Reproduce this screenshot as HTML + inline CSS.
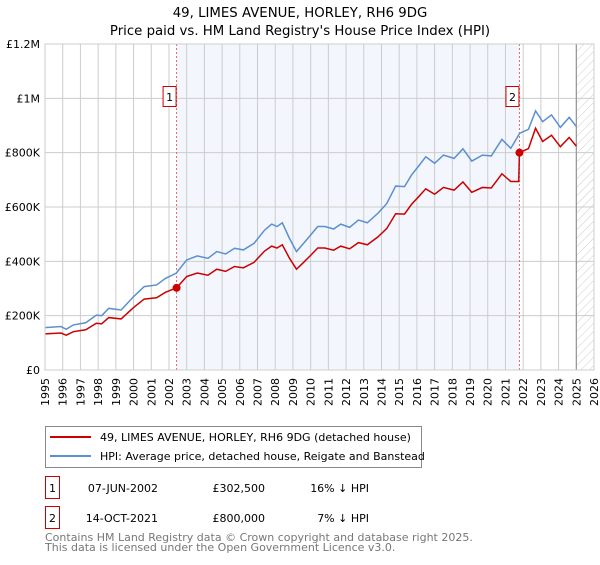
<!DOCTYPE html>
<html><head><meta charset="utf-8"><style>
body{margin:0;background:#fff;font-family:"Liberation Sans","DejaVu Sans",sans-serif}
svg text{font-family:"DejaVu Sans","Liberation Sans",sans-serif}
</style></head><body>
<svg id="c" width="600" height="560" xmlns="http://www.w3.org/2000/svg">
<text x="300" y="17" text-anchor="middle" font-size="13.3" fill="#000">49, LIMES AVENUE, HORLEY, RH6 9DG</text>
<text x="300" y="35" text-anchor="middle" font-size="13.3" fill="#000">Price paid vs. HM Land Registry's House Price Index (HPI)</text>
<g id="plot"></g>
<g>
<rect x="45.5" y="426.5" width="376" height="41" fill="#fff" stroke="#888"/>
<line x1="50" y1="437" x2="91" y2="437" stroke="#cc0000" stroke-width="2"/>
<text x="100" y="441" font-size="11">49, LIMES AVENUE, HORLEY, RH6 9DG (detached house)</text>
<line x1="50" y1="456" x2="91" y2="456" stroke="#5b8fd0" stroke-width="2"/>
<text x="100" y="460" font-size="11">HPI: Average price, detached house, Reigate and Banstead</text>
</g>
<g font-size="11">
<rect x="45.5" y="476.5" width="14" height="22" fill="#fff" stroke="#cc0000"/>
<text x="52.5" y="492" text-anchor="middle">1</text>
<text x="158" y="492" text-anchor="end">07-JUN-2002</text>
<text x="265" y="492" text-anchor="end">£302,500</text>
<text x="369" y="492" text-anchor="end">16% ↓ HPI</text>
<rect x="45.5" y="506.5" width="14" height="22" fill="#fff" stroke="#cc0000"/>
<text x="52.5" y="522" text-anchor="middle">2</text>
<text x="158" y="522" text-anchor="end">14-OCT-2021</text>
<text x="265" y="522" text-anchor="end">£800,000</text>
<text x="369" y="522" text-anchor="end">7% ↓ HPI</text>
</g>
<text x="45" y="541" font-size="11" fill="#777">Contains HM Land Registry data © Crown copyright and database right 2025.</text>
<text x="45" y="551" font-size="11" fill="#777">This data is licensed under the Open Government Licence v3.0.</text>
</svg>
<script>
const years=[1995,1995.9,1996.2,1996.6,1997.3,1997.9,1998.2,1998.6,1999.3,2000.0,2000.6,2001.3,2001.8,2002.4,2003.0,2003.6,2004.2,2004.7,2005.2,2005.7,2006.2,2006.8,2007.4,2007.8,2008.1,2008.4,2008.8,2009.2,2009.6,2010.0,2010.4,2010.8,2011.3,2011.7,2012.2,2012.7,2013.2,2013.8,2014.3,2014.8,2015.3,2015.7,2016.1,2016.5,2017.0,2017.5,2018.1,2018.6,2019.1,2019.7,2020.2,2020.8,2021.3,2021.8,2022.3,2022.7,2023.1,2023.6,2024.1,2024.6,2025.0];
const hpi=[156,160,150,166,174,202,200,227,221,270,307,313,337,356,405,420,411,436,427,448,442,466,515,537,528,542,485,436,466,497,528,528,519,537,525,552,542,577,613,677,675,718,751,785,761,791,779,814,769,791,788,849,816,871,886,954,914,939,893,930,896];
const redYears=[1995,1995.9,1996.2,1996.6,1997.3,1997.9,1998.2,1998.6,1999.3,2000.0,2000.6,2001.3,2001.8,2002.43,2003.0,2003.6,2004.2,2004.7,2005.2,2005.7,2006.2,2006.8,2007.4,2007.8,2008.1,2008.4,2008.8,2009.2,2009.6,2010.0,2010.4,2010.8,2011.3,2011.7,2012.2,2012.7,2013.2,2013.8,2014.3,2014.8,2015.3,2015.7,2016.1,2016.5,2017.0,2017.5,2018.1,2018.6,2019.1,2019.7,2020.2,2020.8,2021.3,2021.75,2021.79,2022.3,2022.7,2023.1,2023.6,2024.1,2024.6,2025.0];
const red=[133,136,128,141,148,172,170,193,188,230,261,266,286,302.5,344,357,349,371,363,381,376,396,438,456,449,461,412,371,396,422,449,449,441,456,446,469,461,490,521,575,574,610,638,667,647,672,662,692,654,672,670,722,694,694,800,815,890,841,864,822,856,824];
const saleYears=[2002.43,2021.79];
const salePrices=[302.5,800];
const saleLabels=["1","2"];
const yTicks=[0,200,400,600,800,1000,1200];
const yTickLabels=["£0","£200K","£400K","£600K","£800K","£1M","£1.2M"];
const xTicks=[];for(let y=1995;y<=2026;y++)xTicks.push(y);
const X0=45,X1=594,Y0=370,Y1=44;
const sx=y=>X0+(y-1995)/(2026-1995)*(X1-X0);
const sy=v=>Y0-v/1200*(Y0-Y1);
const NS="http://www.w3.org/2000/svg";
const g=document.getElementById('plot');
function mk(t,a){const e=document.createElementNS(NS,t);for(const k in a)e.setAttribute(k,a[k]);g.appendChild(e);return e;}
let e;
e=mk('rect',{x:sx(saleYears[0]),y:Y1,width:sx(saleYears[1])-sx(saleYears[0]),height:Y0-Y1,fill:'#eef3fc',opacity:0.7});


const defs=document.createElementNS(NS,'defs');defs.innerHTML='<pattern id="h" width="6" height="6" patternUnits="userSpaceOnUse" patternTransform="rotate(45)"><line x1="0" y1="0" x2="0" y2="6" stroke="#ccc" stroke-width="1"/></pattern>';g.appendChild(defs);
e=mk('rect',{x:sx(2025),y:Y1,width:X1-sx(2025),height:Y0-Y1,fill:'url(#h)'});


xTicks.forEach((t,i)=>{
 e=mk('line',{x1:sx(t),x2:sx(t),y1:Y1,y2:Y0,stroke:'#ccc','stroke-width':1});
 
 
 e=mk('text',{x:0,y:0,'font-size':11,'text-anchor':'end',transform:`translate(${sx(t)+4},${Y0+8}) rotate(-90)`});
 e.textContent=t;
 
 
});
yTicks.forEach((t,i)=>{
 e=mk('line',{x1:X0,x2:X1,y1:sy(t),y2:sy(t),stroke:'#ccc','stroke-width':1});
 
 
 e=mk('text',{x:X0-5,y:sy(t)+4,'font-size':11,'text-anchor':'end'});
 e.textContent=yTickLabels[i];
 
 
});
e=mk('line',{x1:sx(2025),x2:sx(2025),y1:Y1,y2:Y0,stroke:'#888','stroke-width':1});


saleYears.forEach((s,i)=>{
 e=mk('line',{x1:sx(s),x2:sx(s),y1:Y1,y2:Y0,stroke:'#e06666','stroke-width':1,'stroke-dasharray':'2,2'});
 
 
});
e=mk('polyline',{points:years.map((y,i)=>sx(y)+','+sy(hpi[i])).join(' '),fill:'none',stroke:'#5b8fd0','stroke-width':1.5});


e=mk('polyline',{points:redYears.map((y,i)=>sx(y)+','+sy(red[i])).join(' '),fill:'none',stroke:'#cc0000','stroke-width':1.5});


saleYears.forEach((s,i)=>{
 e=mk('circle',{cx:sx(s),cy:sy(salePrices[i]),r:4,fill:'#cc0000'});
 
 
 e=mk('rect',{x:sx(s)-13.5,y:86.5,width:13,height:20,fill:'#fff',stroke:'#cc0000'});
 
 
 e=mk('text',{x:sx(s)-7,y:101,'font-size':11,'text-anchor':'middle'});
 e.textContent=saleLabels[i];
 
 
});
e=mk('rect',{x:X0,y:Y1,width:X1-X0,height:Y0-Y1,fill:'none',stroke:'#ccc'});


</script>
</body></html>
